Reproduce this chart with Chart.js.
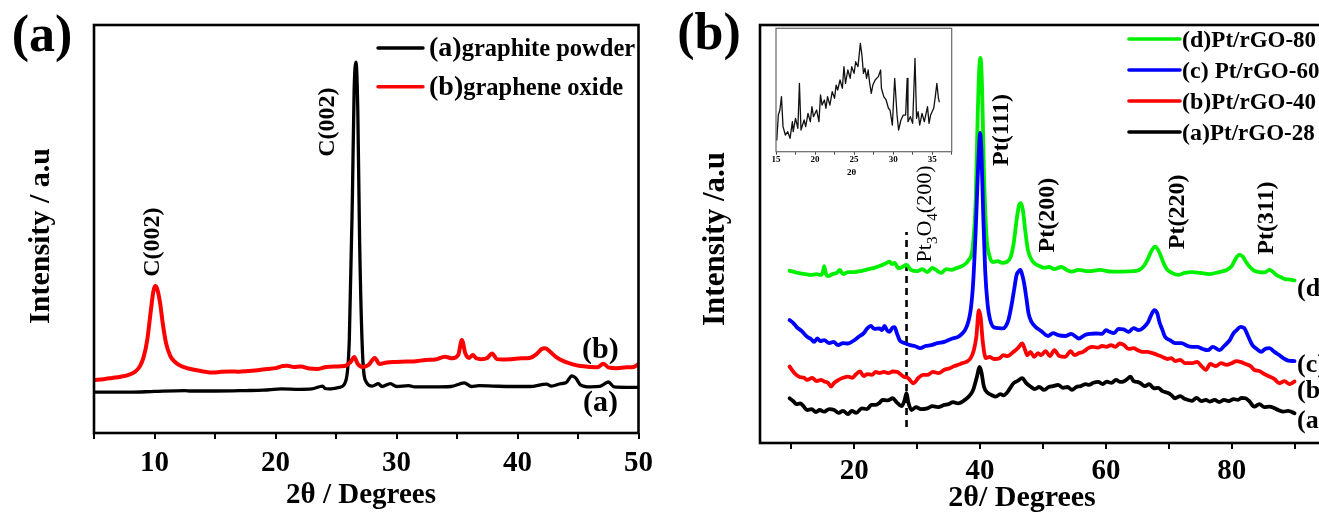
<!DOCTYPE html>
<html>
<head>
<meta charset="utf-8">
<script src="https://cdn.jsdelivr.net/npm/chart.js@4.4.1/dist/chart.umd.min.js"></script>
<style>
  html, body { margin: 0; padding: 0; background: #fff; overflow: hidden; }
  #wrap { position: relative; width: 1319px; height: 520px; overflow: hidden; background: #fff; }
  canvas { position: absolute; }
  #panelA { left: 0; top: 0; }
  #panelB { left: 660px; top: 0; }
  #inset { left: 760px; top: 20px; }
</style>
</head>
<body>
<div id="wrap">
  <canvas id="panelA" width="660" height="520"></canvas>
  <canvas id="panelB" width="680" height="520"></canvas>
  <canvas id="inset" width="200" height="160"></canvas>
</div>
<script>
// ---------- Panel (a): XRD of graphite powder and graphene oxide ----------
const graphiteAngle = [5.0, 8.0, 10.0, 12.5, 13.0, 15.0, 17.5, 19.0, 20.5, 22.0, 23.0, 23.9, 24.1, 24.4, 25.3, 25.8, 26.1, 26.35, 26.5, 26.65, 26.8, 26.95, 27.2, 27.5, 28.0, 28.5, 28.8, 29.5, 30.0, 31.0, 31.5, 33.0, 34.5, 35.6, 36.2, 36.8, 38.0, 39.5, 41.0, 42.4, 42.8, 43.6, 44.0, 44.5, 44.8, 45.2, 46.0, 46.8, 47.5, 48.0, 49.0, 50.0];
const graphiteCounts = [100, 100, 102, 104, 103, 103, 104, 105, 108, 107, 108, 115, 109, 108, 112, 127, 228, 571, 841, 909, 792, 473, 191, 125, 115, 121, 114, 121, 114, 116, 113, 113, 114, 123, 114, 116, 115, 114, 114, 120, 115, 121, 123, 140, 135, 118, 113, 114, 125, 113, 112, 112];

const goAngle = [5.0, 5.8, 6.5, 7.2, 7.8, 8.4, 8.8, 9.1, 9.4, 9.7, 9.9, 10.05, 10.2, 10.45, 10.7, 10.95, 11.3, 11.7, 12.2, 12.8, 13.5, 14.2, 14.8, 15.5, 16.3, 17.0, 17.7, 18.5, 19.3, 20.0, 20.6, 21.0, 21.5, 22.1, 22.8, 23.5, 24.2, 25.0, 25.7, 26.2, 26.5, 26.8, 27.2, 27.7, 28.2, 28.6, 29.2, 29.9, 30.8, 31.6, 32.4, 33.2, 34.0, 34.6, 35.1, 35.4, 35.7, 36.0, 36.3, 36.6, 37.0, 37.5, 37.9, 38.3, 38.8, 39.5, 40.3, 41.0, 41.6, 42.0, 42.3, 42.7, 43.2, 43.8, 44.5, 45.2, 46.0, 46.6, 47.1, 47.5, 48.2, 49.0, 49.6, 50.0];
const goCounts = [130, 132, 135, 138, 142, 150, 164, 186, 228, 301, 346, 360, 355, 321, 265, 221, 189, 174, 164, 158, 154, 150, 148, 150, 151, 150, 152, 154, 157, 159, 164, 165, 162, 163, 158, 157, 162, 163, 164, 174, 186, 169, 162, 167, 184, 169, 173, 174, 175, 176, 179, 180, 187, 183, 191, 228, 194, 184, 191, 183, 181, 184, 195, 181, 180, 181, 183, 184, 194, 206, 208, 199, 186, 176, 169, 164, 162, 161, 170, 161, 159, 161, 162, 169];

const legendTagsA = ['(a)', '(b)'];
const legendNamesA = ['graphite powder', 'graphene oxide'];
const tickValuesA = [5, 10, 15, 20, 25, 30, 35, 40, 45, 50];
const tickLabelsA = [10, 20, 30, 40, 50];

// ---------- Panel (b): Pt/rGO composites ----------
const rgo28Angle = [9.7, 10.3, 10.8, 11.4, 11.9, 12.5, 13.2, 13.9, 14.5, 15.2, 16.0, 16.8, 17.5, 18.2, 19.0, 19.6, 20.3, 21.2, 22.0, 22.7, 23.4, 24.0, 24.5, 25.3, 26.1, 26.7, 27.5, 28.0, 28.3, 28.6, 29.1, 29.8, 30.6, 31.6, 32.4, 33.3, 34.3, 35.0, 35.7, 36.5, 37.3, 38.2, 38.9, 39.5, 39.9, 40.2, 40.6, 41.2, 41.8, 42.5, 43.2, 43.7, 44.2, 44.8, 45.3, 45.9, 46.7, 47.3, 48.0, 48.7, 49.4, 50.2, 50.9, 51.6, 52.4, 53.2, 53.9, 54.6, 55.3, 56.0, 56.8, 57.3, 58.0, 58.8, 59.5, 60.1, 60.9, 61.6, 62.3, 62.8, 63.4, 63.9, 64.4, 65.0, 65.5, 66.2, 66.9, 67.6, 68.3, 69.0, 69.8, 70.4, 71.0, 71.8, 72.6, 73.7, 74.4, 75.2, 75.9, 76.5, 77.3, 78.0, 78.8, 79.5, 80.3, 81.0, 81.6, 82.2, 82.8, 83.6, 84.4, 85.2, 86.0, 86.7, 87.4, 88.2, 89.0, 90.0];
const rgo28Counts = [107, 100, 93, 95, 88, 79, 81, 74, 79, 75, 81, 79, 72, 77, 69, 77, 72, 83, 81, 91, 91, 96, 103, 102, 107, 98, 88, 103, 119, 96, 79, 86, 81, 83, 88, 86, 91, 93, 98, 95, 100, 111, 127, 159, 182, 170, 135, 120, 115, 111, 117, 114, 119, 132, 143, 148, 155, 144, 135, 129, 134, 127, 134, 136, 139, 132, 134, 127, 134, 136, 141, 139, 144, 146, 141, 147, 144, 151, 146, 147, 153, 159, 148, 146, 143, 136, 141, 131, 132, 124, 120, 115, 107, 112, 105, 101, 108, 100, 103, 99, 103, 98, 103, 100, 105, 103, 108, 107, 100, 87, 93, 86, 87, 84, 79, 75, 77, 71];

const rgo40Angle = [9.7, 10.5, 11.3, 12.0, 12.5, 13.3, 14.0, 14.7, 15.2, 15.8, 16.3, 16.8, 17.5, 18.2, 19.0, 19.7, 20.3, 20.9, 21.5, 22.0, 22.8, 23.4, 24.0, 24.7, 25.4, 26.1, 26.8, 27.3, 27.8, 28.5, 29.4, 30.2, 30.9, 31.6, 32.5, 33.4, 34.3, 35.2, 35.9, 36.5, 37.2, 37.8, 38.5, 39.0, 39.4, 39.8, 40.1, 40.4, 40.9, 41.5, 42.2, 43.1, 43.7, 44.3, 45.3, 46.0, 46.7, 47.1, 47.5, 48.0, 48.6, 49.2, 49.7, 50.4, 51.1, 51.8, 52.6, 53.5, 54.4, 55.0, 55.7, 56.4, 57.2, 57.9, 58.7, 59.4, 60.1, 60.8, 61.5, 62.2, 62.9, 63.6, 64.4, 65.1, 65.8, 66.6, 67.4, 68.3, 69.0, 69.8, 70.4, 71.0, 71.8, 72.6, 73.7, 74.5, 75.2, 75.9, 76.6, 77.5, 78.3, 79.2, 80.0, 80.8, 81.4, 82.2, 83.0, 83.6, 84.4, 85.2, 86.0, 86.8, 87.6, 88.4, 89.2, 90.0];
const rgo40Counts = [183, 167, 158, 156, 151, 156, 148, 151, 147, 144, 135, 144, 151, 156, 159, 156, 165, 171, 160, 165, 163, 170, 167, 170, 167, 171, 170, 165, 159, 156, 143, 156, 163, 163, 170, 167, 175, 179, 184, 187, 191, 194, 203, 222, 254, 318, 299, 246, 203, 206, 201, 203, 210, 208, 218, 227, 238, 225, 210, 218, 206, 215, 210, 220, 208, 222, 208, 206, 220, 210, 215, 218, 227, 230, 228, 232, 230, 234, 230, 238, 234, 225, 227, 222, 218, 218, 215, 210, 206, 201, 203, 196, 199, 191, 191, 194, 184, 175, 189, 184, 191, 187, 191, 196, 194, 189, 184, 175, 172, 165, 159, 153, 143, 148, 141, 147];

const rgo60Angle = [9.7, 10.3, 10.8, 11.6, 12.5, 13.1, 13.6, 14.1, 14.6, 15.2, 16.0, 16.7, 17.4, 18.2, 19.0, 19.8, 20.7, 21.5, 22.1, 22.6, 23.2, 24.0, 24.4, 24.8, 25.2, 25.6, 26.0, 26.4, 26.8, 27.2, 28.0, 28.9, 29.6, 30.5, 31.3, 32.2, 33.2, 34.3, 35.4, 36.5, 37.1, 37.6, 38.1, 38.5, 38.9, 39.3, 39.6, 39.85, 40.0, 40.2, 40.5, 40.8, 41.2, 41.6, 42.3, 43.0, 43.6, 44.1, 44.5, 45.0, 45.4, 45.8, 46.1, 46.4, 46.7, 47.0, 47.4, 47.7, 48.2, 48.8, 49.7, 50.8, 51.6, 52.4, 53.5, 54.5, 55.7, 56.6, 57.5, 58.4, 59.4, 60.0, 60.6, 61.3, 62.0, 62.8, 63.6, 64.4, 65.2, 66.1, 66.7, 67.2, 67.7, 68.2, 68.5, 69.0, 69.4, 70.2, 71.0, 72.0, 73.0, 73.7, 74.5, 75.4, 76.2, 77.0, 78.1, 78.8, 79.7, 80.3, 80.8, 81.4, 82.0, 82.6, 83.3, 84.0, 84.7, 85.3, 86.0, 86.8, 87.5, 88.2, 89.0, 90.0];
const rgo60Counts = [294, 287, 278, 268, 254, 249, 242, 250, 244, 246, 239, 242, 234, 239, 238, 244, 254, 263, 275, 280, 273, 274, 270, 280, 270, 266, 275, 277, 261, 246, 239, 234, 232, 227, 232, 234, 239, 242, 249, 254, 261, 270, 289, 318, 385, 510, 629, 713, 742, 701, 545, 414, 330, 294, 276, 275, 274, 280, 294, 330, 366, 402, 410, 414, 402, 382, 342, 310, 289, 278, 268, 256, 263, 258, 256, 261, 250, 258, 261, 262, 261, 270, 266, 263, 273, 272, 266, 275, 270, 278, 289, 306, 318, 309, 290, 270, 254, 246, 239, 239, 232, 230, 230, 225, 222, 230, 222, 232, 246, 263, 270, 278, 275, 256, 234, 225, 218, 225, 227, 218, 211, 203, 197, 196];

const rgo80Angle = [9.7, 10.5, 11.4, 12.2, 13.0, 14.0, 14.6, 15.0, 15.2, 15.5, 15.8, 16.5, 17.2, 17.7, 18.2, 19.0, 20.0, 21.2, 22.3, 23.2, 23.9, 24.8, 25.6, 26.0, 26.4, 27.0, 27.6, 28.3, 29.0, 30.0, 30.8, 31.6, 32.4, 33.0, 33.8, 34.6, 35.4, 36.3, 37.1, 38.2, 38.8, 39.3, 39.6, 39.85, 40.05, 40.3, 40.6, 41.0, 41.5, 42.0, 42.8, 43.5, 44.2, 44.8, 45.3, 45.8, 46.2, 46.5, 46.8, 47.2, 47.6, 48.2, 48.8, 49.5, 50.2, 51.0, 51.8, 52.9, 53.8, 54.6, 55.6, 57.3, 59.0, 61.0, 62.8, 64.3, 65.3, 66.0, 66.6, 67.2, 67.8, 68.3, 68.8, 69.3, 69.8, 70.5, 71.5, 72.5, 73.7, 75.0, 76.5, 78.0, 79.2, 80.0, 80.6, 81.2, 81.7, 82.3, 82.9, 83.6, 84.4, 85.2, 86.0, 86.6, 87.1, 87.8, 88.5, 89.3, 90.0];
const rgo80Counts = [412, 409, 406, 404, 402, 404, 402, 409, 423, 404, 399, 404, 407, 414, 404, 409, 409, 412, 416, 419, 423, 428, 434, 428, 431, 418, 421, 426, 414, 411, 416, 409, 419, 414, 407, 416, 414, 419, 423, 438, 466, 581, 773, 892, 921, 856, 653, 498, 447, 433, 435, 431, 433, 443, 474, 533, 569, 574, 557, 505, 462, 438, 428, 423, 419, 421, 416, 421, 414, 410, 414, 411, 414, 410, 410, 411, 414, 423, 438, 458, 470, 462, 445, 426, 414, 407, 402, 407, 409, 407, 404, 409, 414, 423, 440, 450, 447, 433, 421, 412, 409, 408, 414, 409, 402, 397, 392, 391, 389];

// Pt3O4(200) reference position and the extent of its dashed marker
const oxideMarkAngle = 28.3;
const oxideMarkSpan = [38, 505];

const legendTagsB = ['(d)', '(c) ', '(b)', '(a)'];
const legendNamesB = ['Pt/rGO-80', 'Pt/rGO-60', 'Pt/rGO-40', 'Pt/rGO-28'];
const tickValuesB = [10, 20, 30, 40, 50, 60, 70, 80, 90];
const tickLabelsB = [20, 40, 60, 80];

// ---------- Inset: low-angle region ----------
const insetAngle = [15.1, 15.3, 15.5, 15.7, 15.9, 16.2, 16.5, 16.8, 17.1, 17.2, 17.5, 17.8, 18.0, 18.2, 18.6, 18.8, 19.1, 19.4, 19.6, 19.8, 20.2, 20.5, 20.7, 20.9, 21.2, 21.4, 21.6, 21.9, 22.2, 22.5, 22.7, 22.9, 23.2, 23.5, 23.7, 23.9, 24.2, 24.5, 24.7, 25.0, 25.2, 25.5, 25.8, 26.0, 26.2, 26.4, 26.6, 26.8, 27.0, 27.2, 27.4, 27.7, 28.1, 28.4, 28.5, 28.8, 29.1, 29.4, 29.6, 29.9, 30.2, 30.5, 30.7, 31.0, 31.3, 31.6, 31.8, 31.9, 32.2, 32.5, 32.8, 33.0, 33.2, 33.4, 33.7, 34.0, 34.4, 34.6, 34.8, 35.2, 35.4, 35.6, 35.8, 35.9];
const insetCounts = [9.5, 29.7, 33.8, 44.6, 20.3, 13.5, 16.2, 10.8, 24.3, 16.2, 27, 19, 55.4, 17.6, 25.7, 20.3, 31, 24.3, 36.5, 28.4, 33.8, 24.3, 46, 37.8, 41.9, 35.2, 44.6, 37.8, 48.6, 43.3, 54, 50, 58.1, 51.4, 68.9, 55.4, 66.2, 59.5, 68.9, 63.5, 72.9, 68.9, 87.8, 78.4, 63.5, 67.6, 59.5, 66.2, 55.4, 47.3, 54, 58.1, 60.8, 66.2, 51.4, 44.6, 41.9, 35.2, 33.8, 21.6, 59.5, 29.7, 17.6, 25.7, 29.7, 29.7, 59.5, 24.3, 28.4, 23, 75.7, 27, 32.4, 21.6, 31, 24.3, 36.5, 23, 29.7, 35.2, 44.6, 55.4, 43.3, 40.5];
const tickValuesInset = [15, 17.5, 20, 22.5, 25, 27.5, 30, 32.5, 35, 37.5];
const tickLabelsInset = [15, 20, 25, 30, 35];

// ---------- helpers ----------
const SERIF = '"Liberation Serif", "Times New Roman", Times, serif';
Chart.defaults.font.family = SERIF;
const cssFont = (size, weight) => `${weight || 'bold'} ${size}px ${SERIF}`;

function series(xs, ys) {
  const n = Math.min(xs.length, ys.length);
  const out = [];
  for (let i = 0; i < n; i++) out.push({ x: xs[i], y: ys[i] });
  return out;
}

function lineSet(label, xs, ys, color, width, extra) {
  return Object.assign({
    label, data: series(xs, ys),
    borderColor: color, backgroundColor: color, borderWidth: width,
    pointRadius: 0, pointHoverRadius: 0, fill: false,
    cubicInterpolationMode: 'monotone',
    borderJoinStyle: 'round', borderCapStyle: 'round'
  }, extra || {});
}

function xAxis(o) {
  return {
    type: 'linear', min: o.min, max: o.max,
    afterBuildTicks: s => { s.ticks = o.values.map(v => ({ value: v })); },
    afterFit: s => { s.height = o.height; },
    border: { display: false },
    grid: {
      display: true, drawOnChartArea: false, drawTicks: true,
      tickLength: o.tickLength, lineWidth: o.tickWidth, tickWidth: o.tickWidth,
      color: o.color, tickColor: o.color
    },
    ticks: {
      autoSkip: false, maxRotation: 0, minRotation: 0, padding: o.pad, color: '#000',
      font: { family: SERIF, size: o.size, weight: 'bold' },
      callback: v => (o.labelled.includes(v) ? String(v) : '')
    }
  };
}

function drawFrame(ctx, a, color, width) {
  ctx.save();
  ctx.strokeStyle = color;
  ctx.lineWidth = width;
  ctx.strokeRect(a.left, a.top, a.right - a.left, a.bottom - a.top);
  ctx.restore();
}

// runs: [{t, size, weight, sub}] laid out on one baseline
function measureRuns(ctx, runs) {
  let w = 0;
  runs.forEach(r => { ctx.font = cssFont(r.size, r.weight); r.w = ctx.measureText(r.t).width; w += r.w; });
  return w;
}
function paintRuns(ctx, runs, x0, base) {
  let x = x0;
  runs.forEach(r => {
    ctx.font = cssFont(r.size, r.weight);
    ctx.fillText(r.t, x, base + (r.sub || 0));
    x += r.w;
  });
}
// horizontal text; align: 'left' | 'center'; y is the baseline
function hText(ctx, runs, x, y, align) {
  ctx.save();
  ctx.fillStyle = '#000';
  ctx.textAlign = 'left';
  ctx.textBaseline = 'alphabetic';
  const w = measureRuns(ctx, runs);
  paintRuns(ctx, runs, align === 'center' ? x - w / 2 : x, y);
  ctx.restore();
}
// text read bottom-to-top, centred on (cx, cy)
function vText(ctx, runs, cx, cy) {
  ctx.save();
  ctx.fillStyle = '#000';
  ctx.translate(cx, cy);
  ctx.rotate(-Math.PI / 2);
  ctx.textAlign = 'left';
  ctx.textBaseline = 'alphabetic';
  const w = measureRuns(ctx, runs);
  paintRuns(ctx, runs, -w / 2, runs[0].size * 0.25);
  ctx.restore();
}

function drawLegend(ctx, entries, lay) {
  entries.forEach((e, i) => {
    const y = lay.rows[i];
    ctx.save();
    ctx.strokeStyle = e.color;
    ctx.lineWidth = lay.lineWidth;
    ctx.lineCap = 'round';
    ctx.beginPath();
    ctx.moveTo(lay.x0, y);
    ctx.lineTo(lay.x1, y);
    ctx.stroke();
    ctx.restore();
    hText(ctx, [{ t: e.tag, size: lay.tagSize }, { t: e.name, size: lay.nameSize }], lay.textX, y + lay.baseShift, 'left');
  });
}

// ---------- annotation placement (data units) ----------
const peakNotesA = [
  { text: 'C(002)', angle: 9.86, level: 468 },
  { text: 'C(002)', angle: 24.38, level: 762 }
];
const curveTagsA = [
  { text: '(b)', angle: 46.85, level: 203 },
  { text: '(a)', angle: 46.85, level: 74 }
];
const peakNotesB = [
  { text: 'Pt(111)', angle: 43.44, level: 749 },
  { text: 'Pt(200)', angle: 50.76, level: 545 },
  { text: 'Pt(220)', angle: 71.46, level: 553 },
  { text: 'Pt(311)', angle: 85.64, level: 538 }
];
const oxideNote = { angle: 31.34, level: 548 };
const curveTagsB = [
  { text: '(d)', angle: 90.4, level: 368 },
  { text: '(c)', angle: 90.4, level: 187 },
  { text: '(b)', angle: 90.4, level: 124 },
  { text: '(a)', angle: 90.4, level: 53 }
];

// ---------- panel (a) ----------
const colorsA = ['#000000', '#ff0000'];
const decorA = {
  id: 'decorA',
  afterDatasetsDraw(chart) {
    const { ctx, chartArea: a, scales: { x, y } } = chart;
    drawFrame(ctx, a, '#000', 2.6);
    hText(ctx, [{ t: '(a)', size: 52 }], 42, 51, 'center');
    hText(ctx, [{ t: '2\u03b8 / Degrees', size: 29 }], 361, 503, 'center');
    vText(ctx, [{ t: 'Intensity / a.u', size: 30 }], 41, 236);
    peakNotesA.forEach(n => vText(ctx, [{ t: n.text, size: 24 }], x.getPixelForValue(n.angle), y.getPixelForValue(n.level)));
    curveTagsA.forEach(n => hText(ctx, [{ t: n.text, size: 30 }], x.getPixelForValue(n.angle), y.getPixelForValue(n.level) + 8, 'center'));
    drawLegend(ctx, legendTagsA.map((t, i) => ({ tag: t, name: legendNamesA[i], color: colorsA[i] })), {
      rows: [48, 86.7], x0: 378, x1: 423, textX: 429, lineWidth: 3.4, tagSize: 28, nameSize: 24.5, baseShift: 8
    });
  }
};

new Chart(document.getElementById('panelA'), {
  type: 'line',
  data: {
    datasets: [
      lineSet(legendTagsA[1] + legendNamesA[1], goAngle, goCounts, colorsA[1], 4, { order: 0 }),
      lineSet(legendTagsA[0] + legendNamesA[0], graphiteAngle, graphiteCounts, colorsA[0], 3.3, { order: 1 })
    ]
  },
  options: {
    responsive: false, animation: false, events: [],
    layout: { padding: { left: 94, top: 25, right: 16, bottom: 0 } },
    scales: {
      x: xAxis({ min: 5, max: 50, values: tickValuesA, labelled: tickLabelsA, height: 87, pad: 7, size: 29, tickLength: 6, tickWidth: 2, color: '#000' }),
      y: { display: false, min: 0, max: 1000 }
    },
    plugins: { legend: { display: false }, tooltip: { enabled: false } }
  },
  plugins: [decorA]
});

// ---------- panel (b) ----------
const colorsB = ['#00f000', '#0000ff', '#ff0000', '#000000'];
const decorB = {
  id: 'decorB',
  afterDatasetsDraw(chart) {
    const { ctx, chartArea: a, scales: { x, y } } = chart;
    drawFrame(ctx, a, '#000', 2.6);
    hText(ctx, [{ t: '(b)', size: 52 }], 49, 49, 'center');
    hText(ctx, [{ t: '2\u03b8/ Degrees', size: 30 }], 362, 506, 'center');
    vText(ctx, [{ t: 'Intensity /a.u', size: 31 }], 56, 239);
    peakNotesB.forEach(n => vText(ctx, [{ t: n.text, size: 24 }], x.getPixelForValue(n.angle), y.getPixelForValue(n.level)));
    vText(ctx, [
      { t: 'Pt', size: 22, weight: 'normal' },
      { t: '3', size: 15, weight: 'normal', sub: 6 },
      { t: 'O', size: 22, weight: 'normal' },
      { t: '4', size: 15, weight: 'normal', sub: 6 },
      { t: '(200)', size: 22, weight: 'normal' }
    ], x.getPixelForValue(oxideNote.angle), y.getPixelForValue(oxideNote.level));
    curveTagsB.forEach(n => hText(ctx, [{ t: n.text, size: 26 }], x.getPixelForValue(n.angle), y.getPixelForValue(n.level) + 7, 'left'));
    drawLegend(ctx, legendTagsB.map((t, i) => ({ tag: t, name: legendNamesB[i], color: colorsB[i] })), {
      rows: [39, 70, 101, 132], x0: 469, x1: 520, textX: 522, lineWidth: 3.6, tagSize: 24, nameSize: 23, baseShift: 8
    });
  }
};

new Chart(document.getElementById('panelB'), {
  type: 'line',
  data: {
    datasets: [
      lineSet(legendTagsB[3] + legendNamesB[3], rgo28Angle, rgo28Counts, colorsB[3], 3.8, { order: 0 }),
      lineSet(legendTagsB[2] + legendNamesB[2], rgo40Angle, rgo40Counts, colorsB[2], 3.8, { order: 1 }),
      lineSet(legendTagsB[1] + legendNamesB[1], rgo60Angle, rgo60Counts, colorsB[1], 3.8, { order: 2 }),
      lineSet(legendTagsB[0] + legendNamesB[0], rgo80Angle, rgo80Counts, colorsB[0], 3.8, { order: 3 }),
      lineSet('Pt3O4(200)', [oxideMarkAngle, oxideMarkAngle], oxideMarkSpan, '#000000', 2.6,
        { order: 4, borderDash: [7, 5], borderCapStyle: 'butt', cubicInterpolationMode: 'default', tension: 0 })
    ]
  },
  options: {
    responsive: false, animation: false, events: [],
    layout: { padding: { left: 100, top: 25, right: 14, bottom: 0 } },
    scales: {
      x: xAxis({ min: 5, max: 95, values: tickValuesB, labelled: tickLabelsB, height: 77, pad: 5, size: 29, tickLength: 6, tickWidth: 2, color: '#000' }),
      y: { display: false, min: 0, max: 1000 }
    },
    plugins: { legend: { display: false }, tooltip: { enabled: false } }
  },
  plugins: [decorB]
});

// ---------- inset ----------
const decorInset = {
  id: 'decorInset',
  afterDatasetsDraw(chart) {
    const { ctx, chartArea: a } = chart;
    drawFrame(ctx, a, '#666', 1.2);
    hText(ctx, [{ t: '2\u03b8', size: 9 }], 91.7, 154.5, 'center');
  }
};

new Chart(document.getElementById('inset'), {
  type: 'line',
  data: {
    datasets: [
      lineSet('2\u03b8 scan', insetAngle, insetCounts, '#111111', 1.3, { cubicInterpolationMode: 'default', tension: 0 })
    ]
  },
  options: {
    responsive: false, animation: false, events: [],
    layout: { padding: { left: 16, top: 8.3, right: 8.3, bottom: 0 } },
    scales: {
      x: xAxis({ min: 15, max: 37.5, values: tickValuesInset, labelled: tickLabelsInset, height: 28.3, pad: 0, size: 9, tickLength: 3, tickWidth: 1, color: '#444' }),
      y: { display: false, min: 0, max: 100 }
    },
    plugins: { legend: { display: false }, tooltip: { enabled: false } }
  },
  plugins: [decorInset]
});
</script>
</body>
</html>
